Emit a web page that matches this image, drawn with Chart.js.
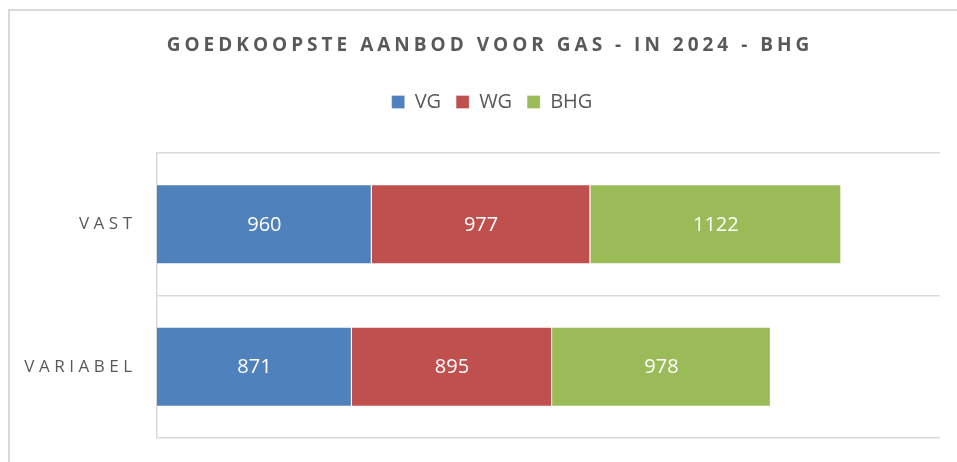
<!DOCTYPE html>
<html>
<head>
<meta charset="utf-8">
<title>Goedkoopste aanbod voor gas</title>
<script src="https://cdn.jsdelivr.net/npm/chart.js@4.4.1/dist/chart.umd.min.js"></script>
<style>
  html, body { margin: 0; padding: 0; background: #fff; }
  #wrap { position: relative; width: 957px; height: 462px; overflow: hidden; }
  #kader { position: absolute; left: 8px; top: 9px; width: 960px; height: 470px;
           border-left: 2px solid #d9d9d9; border-top: 2px solid #d9d9d9; }
  canvas { position: absolute; left: 0; top: 0; }
</style>
</head>
<body>
<div id="wrap">
  <div id="kader"></div>
  <canvas id="grafiek" width="957" height="462"></canvas>
</div>
<script>
// Gegevens uit de grafiek
const titel = 'GOEDKOOPSTE AANBOD VOOR GAS - IN 2024 - BHG';
const categorieen = ['VAST', 'VARIABEL'];
const reeksNamen = ['VG', 'WG', 'BHG'];
const vgWaarden = [960, 871];
const wgWaarden = [977, 895];
const bhgWaarden = [1122, 978];
const xMax = 3500;

const kleuren = ['#4f81bd', '#c0504d', '#9bbb59'];
const tekstKleur = '#595959';

// Titel en categorie-labels met letterafstand, waarden in de balken
const tekstPlugin = {
    id: 'tekst',
    afterDatasetsDraw(chart) {
        const ctx = chart.ctx;
        ctx.save();
        ctx.font = '20px "Open Sans"';
        ctx.fillStyle = '#ffffff';
        ctx.textAlign = 'center';
        ctx.textBaseline = 'middle';
        chart.data.datasets.forEach((ds, di) => {
            chart.getDatasetMeta(di).data.forEach((bar, i) => {
                const p = bar.getCenterPoint();
                ctx.fillText(String(ds.data[i]), p.x, p.y + 1);
            });
        });
        ctx.restore();
    },
    afterDraw(chart) {
        const ctx = chart.ctx;
        ctx.save();
        ctx.fillStyle = tekstKleur;

        // titel
        ctx.font = 'bold 19px "Open Sans"';
        ctx.letterSpacing = '4px';
        ctx.textAlign = 'center';
        ctx.textBaseline = 'alphabetic';
        ctx.fillText(titel, 488 + 2, 51);

        // categorieen op de y-as
        const yAs = chart.scales.y;
        ctx.font = '17px "Open Sans"';
        ctx.letterSpacing = '4.5px';
        ctx.textAlign = 'right';
        ctx.textBaseline = 'middle';
        categorieen.forEach((c, i) => {
            ctx.fillText(c, yAs.right - 25 + 4.5, yAs.getPixelForValue(i));
        });
        ctx.restore();
    }
};

const reeksData = [vgWaarden, wgWaarden, bhgWaarden];

new Chart(document.getElementById('grafiek'), {
    type: 'bar',
    data: {
        labels: categorieen,
        datasets: reeksNamen.map((naam, i) => ({
            label: naam,
            data: reeksData[i],
            backgroundColor: kleuren[i],
            borderColor: 'rgba(255,255,255,0.3)',
            borderWidth: 1
        }))
    },
    options: {
        indexAxis: 'y',
        responsive: false,
        animation: false,
        layout: { padding: { left: 44, right: 17, top: 77, bottom: 24 } },
        datasets: { bar: { barPercentage: 0.56, categoryPercentage: 1 } },
        scales: {
            x: {
                stacked: true,
                position: 'top',
                min: 0,
                max: xMax,
                ticks: { display: false },
                grid: { display: false },
                border: { display: false },
                afterFit: s => { s.height = 31; }
            },
            y: {
                stacked: true,
                ticks: { display: false },
                grid: { color: '#d9d9d9', lineWidth: 1.5, drawTicks: false },
                border: { color: '#d9d9d9', width: 1.5 },
                afterFit: s => { s.width = 113; }
            }
        },
        plugins: {
            title: { display: false },
            tooltip: { enabled: false },
            legend: {
                labels: {
                    boxWidth: 13,
                    boxHeight: 13,
                    padding: 15,
                    color: tekstKleur,
                    font: { family: '"Open Sans"', size: 20 }
                }
            }
        }
    },
    plugins: [tekstPlugin]
});
</script>
</body>
</html>
